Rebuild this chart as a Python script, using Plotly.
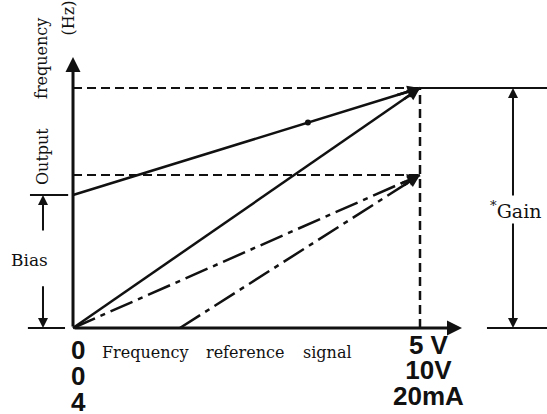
import plotly.graph_objects as go

# Normalised units: x = frequency reference signal (1 = 5 V / 10 V / 20 mA),
# y = output frequency (1 = maximum output frequency).
bias_level = 0.554
low_max = 0.6375
offset_start = 0.308
dot_x = 0.677
dot_y = 0.856

bias_x = [0, 1]
bias_y = [bias_level, 1]
full_x = [0, 1]
full_y = [0, 1]
low_x = [0, 1]
low_y = [0, low_max]
offset_x = [offset_start, 1]
offset_y = [0, low_max]

left_ticks = ["0", "0", "4"]
right_ticks = ["5 V", "10V", "20mA"]
x_words = ["Frequency", "reference", "signal"]
x_word_pos = [0.208, 0.495, 0.732]

INK = "#111111"
SERIF = "DejaVu Serif"
SANS = "Liberation Sans"

fig = go.Figure()

# reference dashed lines
fig.add_trace(go.Scatter(x=[0, 1], y=[1, 1], mode="lines",
                         line=dict(color=INK, width=2, dash="9px,5px")))
fig.add_trace(go.Scatter(x=[0, 1], y=[low_max, low_max], mode="lines",
                         line=dict(color=INK, width=2, dash="9px,5px")))
fig.add_trace(go.Scatter(x=[1, 1], y=[0, 1], mode="lines",
                         line=dict(color=INK, width=2.5, dash="9px,5px")))

# characteristic lines
fig.add_trace(go.Scatter(x=bias_x, y=bias_y, mode="lines",
                         line=dict(color=INK, width=2.5)))
fig.add_trace(go.Scatter(x=full_x, y=full_y, mode="lines",
                         line=dict(color=INK, width=2.5)))
fig.add_trace(go.Scatter(x=low_x, y=low_y, mode="lines",
                         line=dict(color=INK, width=2.5, dash="24px,6px,5px,6px")))
fig.add_trace(go.Scatter(x=offset_x, y=offset_y, mode="lines",
                         line=dict(color=INK, width=2.5, dash="24px,6px,5px,6px")))
fig.add_trace(go.Scatter(x=[dot_x], y=[dot_y], mode="markers",
                         marker=dict(color=INK, size=6)))

# gain / bias dimension bars
fig.add_trace(go.Scatter(x=[1, 1.37], y=[1, 1], mode="lines",
                         line=dict(color=INK, width=2)))
fig.add_trace(go.Scatter(x=[1.193, 1.37], y=[0, 0], mode="lines",
                         line=dict(color=INK, width=2)))
fig.add_trace(go.Scatter(x=[-0.124, -0.014], y=[bias_level, bias_level], mode="lines",
                         line=dict(color=INK, width=2)))
fig.add_trace(go.Scatter(x=[-0.13, -0.023], y=[0, 0], mode="lines",
                         line=dict(color=INK, width=2)))


def arrow(x, y, ax, ay, width=2.5, head=2, size=1.0):
    fig.add_annotation(x=x, y=y, ax=ax, ay=ay, xref="x", yref="y",
                       axref="x", ayref="y", text="", showarrow=True,
                       arrowhead=head, arrowsize=size, arrowwidth=width,
                       arrowcolor=INK)


# axes
arrow(0, 1.129, 0, 0, width=3)
arrow(1.121, 0, 0, 0, width=3)
# arrow heads at line ends
arrow(1, 1, 0.93, 1 - 0.07 * (1 - bias_level))
arrow(1, 1, 0.95, 0.95)
arrow(1, low_max, 0.94, low_max * 0.94)
arrow(1, low_max, 0.95, low_max - 0.05 * low_max / (1 - offset_start))
# bias dimension
arrow(-0.0865, bias_level, -0.0865, 0.40, width=2)
arrow(-0.0865, 0, -0.0865, 0.18, width=2)
# gain dimension
arrow(1.268, 1, 1.268, 0.546, width=2)
arrow(1.268, 0, 1.268, 0.442, width=2)

# texts
fig.add_annotation(x=-0.0893, y=0.7125, text="Output", textangle=-90,
                   showarrow=False, font=dict(family=SERIF, size=16, color=INK))
fig.add_annotation(x=-0.0893, y=1.121, text="frequency", textangle=-90,
                   showarrow=False, font=dict(family=SERIF, size=16, color=INK))
fig.add_annotation(x=-0.0144, y=1.29, text="(Hz)", textangle=-90,
                   showarrow=False, font=dict(family=SERIF, size=16, color=INK))
fig.add_annotation(x=-0.124, y=0.283, text="Bias", showarrow=False,
                   font=dict(family=SERIF, size=17, color=INK))
fig.add_annotation(x=1.274, y=0.4917, text="<sup>*</sup>Gain", showarrow=False,
                   font=dict(family=SERIF, size=19, color=INK))
for word, xp in zip(x_words, x_word_pos):
    fig.add_annotation(x=xp, y=-0.10, text=word, showarrow=False,
                       font=dict(family=SERIF, size=16, color=INK))

# stacked scale labels: glyphs at 26px, line pitch from a 19.5px base size
big = "<span style='font-size:26px'><b>%s</b></span>"
fig.add_annotation(x=0.0144, y=-0.02, yanchor="top", align="center",
                   text="<br>".join(big % t for t in left_ticks), showarrow=False,
                   font=dict(family=SANS, size=20, color=INK))
fig.add_annotation(x=1.024, y=0.0, yanchor="top", align="center",
                   text="<br>".join(big % t for t in right_ticks), showarrow=False,
                   font=dict(family=SANS, size=19.5, color=INK))

fig.update_xaxes(visible=False, range=[-0.2104, 1.366])
fig.update_yaxes(visible=False, range=[-0.3583, 1.3667])
fig.update_layout(
    width=547, height=414,
    margin=dict(l=0, r=0, t=0, b=0),
    plot_bgcolor="white", paper_bgcolor="white",
    showlegend=False,
)

fig.write_html("out.html", config={"displayModeBar": False},
               post_script="document.body.style.margin='0';")
